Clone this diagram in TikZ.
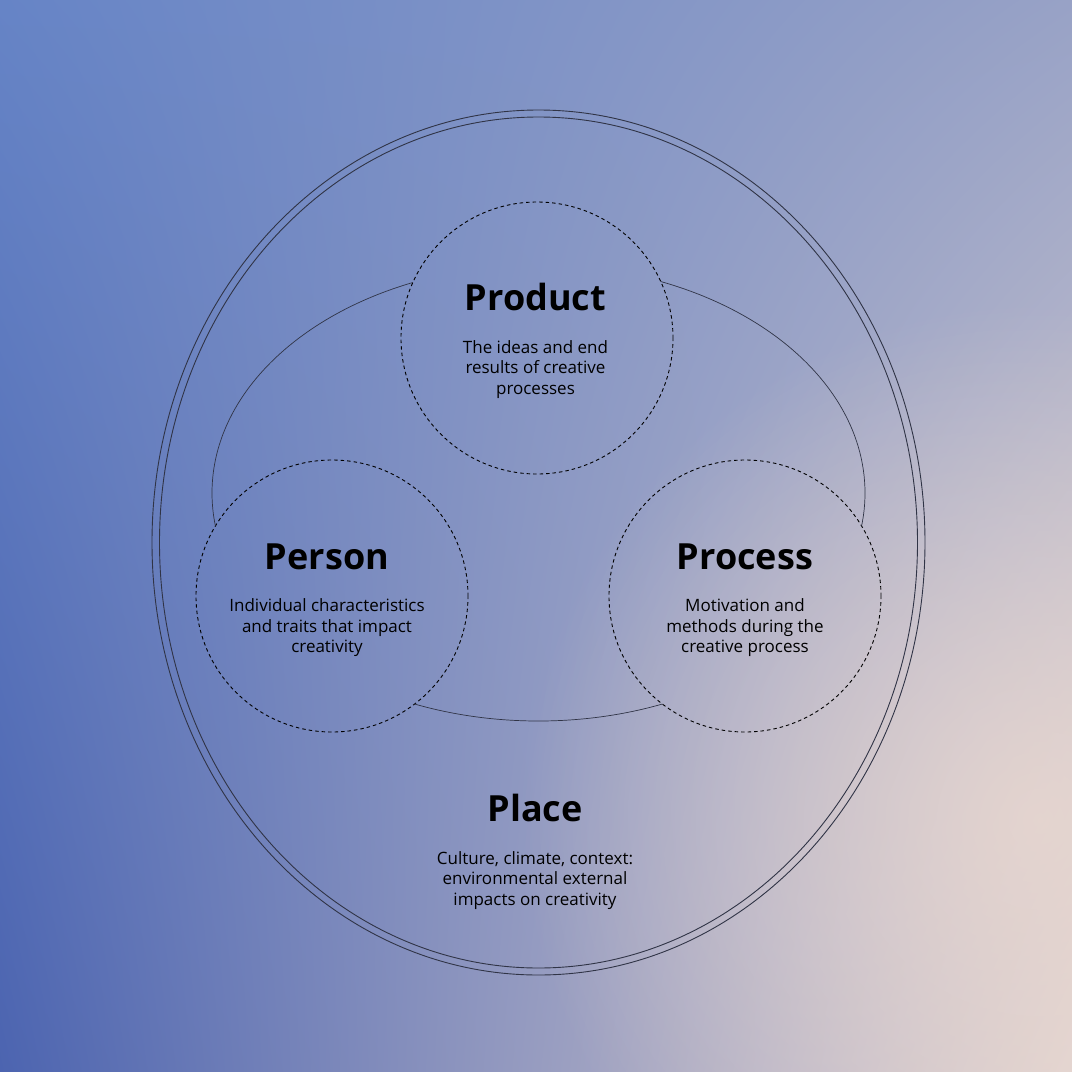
\documentclass[tikz,border=0pt]{standalone}
\usepackage{fontspec}
\setmainfont{Open Sans}
\usepackage{tikz}
\usetikzlibrary{shapes, shadings, fadings, positioning}

\definecolor{bgUL}{RGB}{102,132,198}
\definecolor{bgUR}{RGB}{152,162,198}
\definecolor{bgLL}{RGB}{76,100,176}
\definecolor{bgLR}{RGB}{226,212,208}
\definecolor{bgGlow}{RGB}{234,216,208}
\definecolor{lineGray}{RGB}{48,52,70}

\tikzfading[name=glowfade, inner color=transparent!0, outer color=transparent!100]

\tikzset{
  ring/.style={draw=lineGray, line width=0.9pt},
  dashring/.style={circle, draw=black, line width=0.9pt, dash pattern=on 3.5pt off 3pt, minimum size=272pt, inner sep=0pt},
  headline/.style={anchor=base, inner sep=0pt, font=\bfseries\fontsize{36}{40}\selectfont},
  blurb/.style={below=29pt of #1, inner sep=0pt, align=center, font=\fontsize{17}{20.5}\selectfont}
}

\begin{document}
\begin{tikzpicture}[x=1pt, y=-1pt]

%Background
\useasboundingbox (0,0) rectangle (1072,1072);
\shade [upper left=bgUL, upper right=bgUR, lower left=bgLL, lower right=bgLR] (0,0) rectangle (1072,1072);
\fill [bgGlow, fill opacity=0.8, path fading=glowfade] (1040,820) circle (520);

%Dashed Circles
\node [dashring] (product) at (537,338) {};
\node [dashring] (person)  at (332,596) {};
\node [dashring] (process) at (745,596) {};

%Outer Ellipse
\draw [ring] (538.5,542.5) ellipse (386.5 and 432.5);
\draw [ring] (538.5,542.5) ellipse (379 and 425.5);

%Inner Ellipse (cut at the circles)
\begin{scope}[even odd rule]
  \clip (0,0) rectangle (1072,1072)
    (product.center) circle (136) (person.center) circle (136) (process.center) circle (136);
  \draw [ring, line width=0.7pt] (538.5,493) ellipse (326.5 and 228);
\end{scope}

%Labels
\node [headline] (productTitle) at (535.5,310.7) {Product};
\node [blurb=productTitle] (productText) {The ideas and end\\results of creative\\processes};

\node [headline] (personTitle) at (327,569.3) {Person};
\node [blurb=personTitle] (personText) {Individual characteristics\\and traits that impact\\creativity};

\node [headline] (processTitle) at (745,569.3) {Process};
\node [blurb=processTitle] (processText) {Motivation and\\methods during the\\creative process};

\node [headline] (placeTitle) at (535,821.7) {Place};
\node [blurb=placeTitle] (placeText) {Culture, climate, context:\\environmental external\\impacts on creativity};

\end{tikzpicture}
\end{document}
